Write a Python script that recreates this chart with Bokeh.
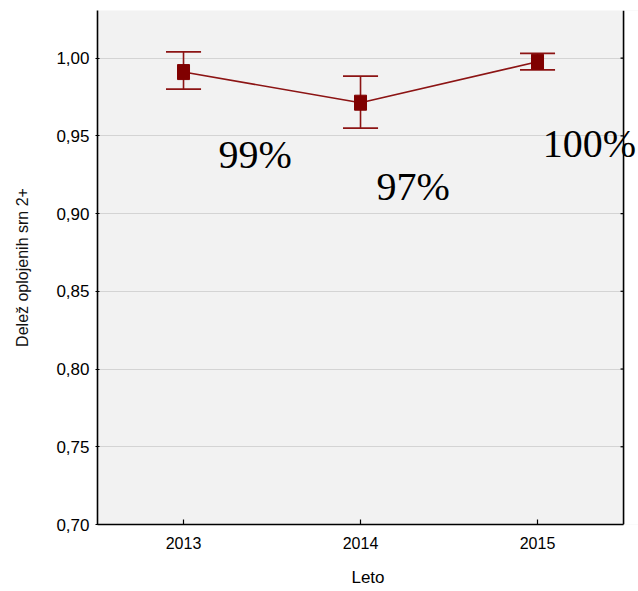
from bokeh.plotting import figure
from bokeh.models import ColumnDataSource, FixedTicker, BoxAnnotation, Span
from bokeh.core.properties import value
from bokeh.embed import file_html
from bokeh.resources import INLINE

years = [2013, 2014, 2015]
means = [0.991, 0.9713, 0.9976]
upper = [1.004, 0.9884, 1.003]
lower = [0.980, 0.9549, 0.9924]
pct_labels = ["99%", "97%", "100%"]
y_ticks = [0.70, 0.75, 0.80, 0.85, 0.90, 0.95, 1.00]

# label placement (offsets relative to year, and y in data units)
label_dx = [0.198, 0.09, 0.03]
label_y = [0.9378, 0.9171, 0.945]

X0, X1 = 2012.514, 2015.486      # visible axis box
X_END = X0 + 541 / 177.0          # canvas edge (lets the big labels overflow)
Y0, Y1 = 0.70, 1.0306

DARK = "#800000"
LINE = "#8c1414"
FONT = "Liberation Sans"

p = figure(width=638, height=591, output_backend="svg", toolbar_location=None,
           x_range=(X0, X_END), y_range=(Y0, Y1),
           min_border_left=97, min_border_right=0, min_border_top=10, min_border_bottom=67)
p.background_fill_color = "#f2f2f2"
p.border_fill_color = "white"
p.outline_line_color = None

p.xgrid.grid_line_color = None
p.ygrid.grid_line_color = "#d4d4d4"
p.ygrid.ticker = FixedTicker(ticks=y_ticks)

# white strip right of the box
p.add_layout(BoxAnnotation(left=X1, fill_color="white", fill_alpha=1, line_color=None, level="underlay"))

xa = p.xaxis[0]
xa.bounds = (X0, X1)
xa.ticker = FixedTicker(ticks=years)
xa.major_label_overrides = {y: str(y) for y in years}
xa.axis_label = "Leto"
xa.axis_label_text_font = FONT
xa.axis_label_text_font_style = "normal"
xa.axis_label_text_font_size = "17px"
xa.axis_label_text_color = "black"
xa.axis_label_standoff = 16
xa.major_label_text_font = FONT
xa.major_label_text_font_size = "16px"
xa.major_label_text_color = "black"
xa.major_label_standoff = 12
xa.major_tick_in = 5
xa.major_tick_out = 0
xa.minor_tick_line_color = None
xa.axis_line_width = 1.6
xa.major_tick_line_width = 1.2

ya = p.yaxis[0]
ya.ticker = FixedTicker(ticks=y_ticks)
ya.major_label_overrides = {t: f"{t:.2f}".replace(".", ",") for t in y_ticks}
ya.axis_label = "Delež oplojenih srn 2+"
ya.axis_label_text_font = FONT
ya.axis_label_text_font_style = "normal"
ya.axis_label_text_font_size = "16px"
ya.axis_label_text_color = "#111111"
ya.axis_label_standoff = 22
ya.major_label_text_font = FONT
ya.major_label_text_font_size = "17px"
ya.major_label_text_color = "black"
ya.major_label_standoff = 6
ya.major_tick_in = 2
ya.major_tick_out = 2
ya.minor_tick_line_color = None
ya.axis_line_width = 1.6
ya.major_tick_line_width = 1.2

# right-hand border line with small inward ticks
p.add_layout(Span(location=X1, dimension="height", line_color="black", line_width=1.6))
tick_len = 3 * (X_END - X0) / 541.0
p.segment(x0=[X1 - tick_len] * len(y_ticks), y0=y_ticks, x1=[X1] * len(y_ticks), y1=y_ticks,
          line_color="black", line_width=1.2)

src = ColumnDataSource(dict(x=years, m=means, up=upper, lo=lower))
cap = 0.099
src.data["x0"] = [x - cap for x in years]
src.data["x1"] = [x + cap for x in years]

p.line("x", "m", source=src, line_color=LINE, line_width=1.6)
p.segment("x", "lo", "x", "up", source=src, line_color=LINE, line_width=1.6)
p.segment("x0", "up", "x1", "up", source=src, line_color=LINE, line_width=1.8)
p.segment("x0", "lo", "x1", "lo", source=src, line_color=LINE, line_width=1.8)
p.rect("x", "m", width=12, height=15, width_units="screen", height_units="screen",
       source=src, fill_color=DARK, line_color=DARK)

lsrc = ColumnDataSource(dict(x=[y + d for y, d in zip(years, label_dx)], y=label_y, t=pct_labels))
p.text(x="x", y="y", text="t", source=lsrc, text_font=value("Liberation Serif"),
       text_font_size="40px", text_color="black", text_baseline="alphabetic", text_align="left")

open("out.html", "w").write(file_html(p, INLINE))
